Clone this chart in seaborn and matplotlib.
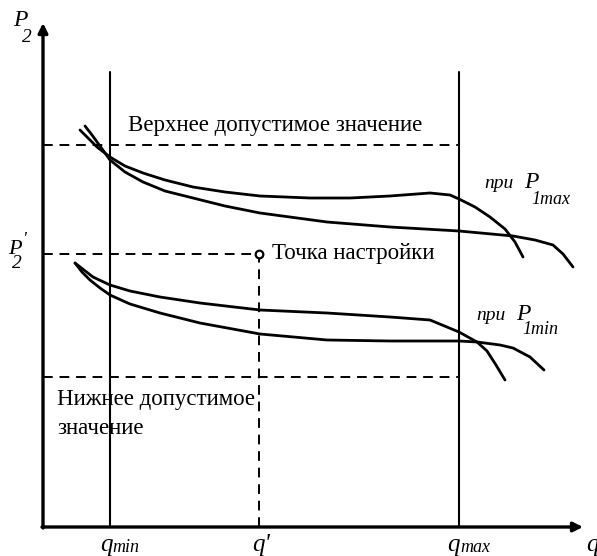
import matplotlib
matplotlib.use("Agg")
import matplotlib.pyplot as plt
import seaborn as sns
import pandas as pd

# Схематичные характеристики P2(q) (условные единицы)
q_max_a = [37, 45, 54, 67, 82, 100, 122, 150, 182, 217, 267, 307, 347, 387, 407, 416, 432, 447, 462, 472, 480]
p_max_a = [397, 389, 380, 370, 361, 354, 347, 340, 335, 331, 329, 329, 331, 334, 332, 328, 320, 310, 298, 285, 270]
q_max_b = [42, 49, 57, 67, 82, 100, 122, 150, 182, 217, 284, 347, 416, 470, 492, 510, 520, 530]
p_max_b = [401, 392, 381, 367, 355, 345, 336, 329, 321, 314, 305, 300, 296, 291, 287, 282, 273, 260]
q_min_a = [32, 41, 50, 67, 87, 117, 157, 217, 284, 347, 387, 416, 434, 444, 453, 462]
p_min_a = [264, 257, 250, 242, 236, 230, 224, 217, 214, 210, 207, 195, 185, 176, 162, 147]
q_min_b = [32, 39, 47, 57, 67, 87, 117, 157, 217, 284, 347, 416, 434, 457, 470, 487, 501]
p_min_b = [264, 255, 247, 239, 232, 223, 214, 204, 193, 187, 186, 186, 185, 182, 179, 170, 157]

# Характерные значения
q_lo, q_set, q_hi = 67, 216, 416
p_upper, p_set, p_lower = 382, 273, 150
line_top = 455
x_end, y_end = 540, 504

sns.set_theme(style="white")
plt.rcParams['font.family'] = ['Liberation Serif', 'DejaVu Serif']
plt.rcParams['text.color'] = 'black'

fig = plt.figure(figsize=(5.97, 5.56), dpi=100)
ax = fig.add_axes([0, 0, 1, 1])
ax.set_xlim(-43, 554)
ax.set_ylim(-29, 527)
ax.axis('off')

curves = [(q_max_a, p_max_a), (q_max_b, p_max_b), (q_min_a, p_min_a), (q_min_b, p_min_b)]
for qq, pp in curves:
    df = pd.DataFrame({"q": qq, "P2": pp})
    sns.lineplot(data=df, x="q", y="P2", sort=False, color='black', lw=2.0, ax=ax)

# Оси со стрелками
ax.annotate('', xy=(0, y_end), xytext=(0, -1),
            arrowprops=dict(arrowstyle='-|>', lw=2.4, color='black', mutation_scale=14, shrinkA=0, shrinkB=0))
ax.annotate('', xy=(x_end, 0), xytext=(-1, 0),
            arrowprops=dict(arrowstyle='-|>', lw=2.4, color='black', mutation_scale=14, shrinkA=0, shrinkB=0))

# Вертикальные линии q_min, q_max
ax.plot([q_lo, q_lo], [0, line_top], color='black', lw=1.5)
ax.plot([q_hi, q_hi], [0, line_top], color='black', lw=1.5)

# Пунктиры
dash = (0, (5, 3.5))
ax.plot([0, q_hi], [p_upper, p_upper], color='black', lw=1.4, ls=dash)
ax.plot([0, q_hi], [p_lower, p_lower], color='black', lw=1.4, ls=dash)
ax.plot([0, q_set], [p_set, p_set], color='black', lw=1.4, ls=dash)
ax.plot([q_set, q_set], [0, p_set], color='black', lw=1.4, ls=dash)
ax.plot([q_set], [p_set], marker='o', ms=5.5, mfc='white', mec='black', mew=1.6)

fs = 16.5
ax.text(85, 401, "Верхнее допустимое значение", fontsize=fs, ha='left', va='center')
ax.text(229, 273, "Точка настройки", fontsize=fs, ha='left', va='center')
ax.text(14, 127, "Нижнее допустимое", fontsize=fs, ha='left', va='center')
ax.text(14, 99, "значение", fontsize=fs, ha='left', va='center')

# Подписи осей
ax.text(-30, 506, "P", fontsize=17, style='italic', ha='left', va='center')
ax.text(-21, 489, "2", fontsize=14, style='italic', ha='left', va='center')
ax.text(-35, 277, "P", fontsize=16, style='italic', ha='left', va='center')
ax.text(-20, 286, "'", fontsize=13, style='italic', ha='left', va='center')
ax.text(-31, 263, "2", fontsize=14, style='italic', ha='left', va='center')

ax.text(441, 343, "при", fontsize=14, style='italic', ha='left', va='center')
ax.text(481, 344, "P", fontsize=17, style='italic', ha='left', va='center')
ax.text(488, 327, "1max", fontsize=13, style='italic', ha='left', va='center')
ax.text(433, 211, "при", fontsize=14, style='italic', ha='left', va='center')
ax.text(473, 212, "P", fontsize=17, style='italic', ha='left', va='center')
ax.text(479, 197, "1min", fontsize=13, style='italic', ha='left', va='center')

ax.text(57, -18, "q", fontsize=18, style='italic', ha='left', va='center')
ax.text(69, -21, "min", fontsize=13, style='italic', ha='left', va='center')
ax.text(209, -18, "q'", fontsize=18, style='italic', ha='left', va='center')
ax.text(404, -18, "q", fontsize=18, style='italic', ha='left', va='center')
ax.text(417, -21, "max", fontsize=13, style='italic', ha='left', va='center')
ax.text(543, -18, "q", fontsize=18, style='italic', ha='left', va='center')

fig.savefig("out.png", dpi=100)
